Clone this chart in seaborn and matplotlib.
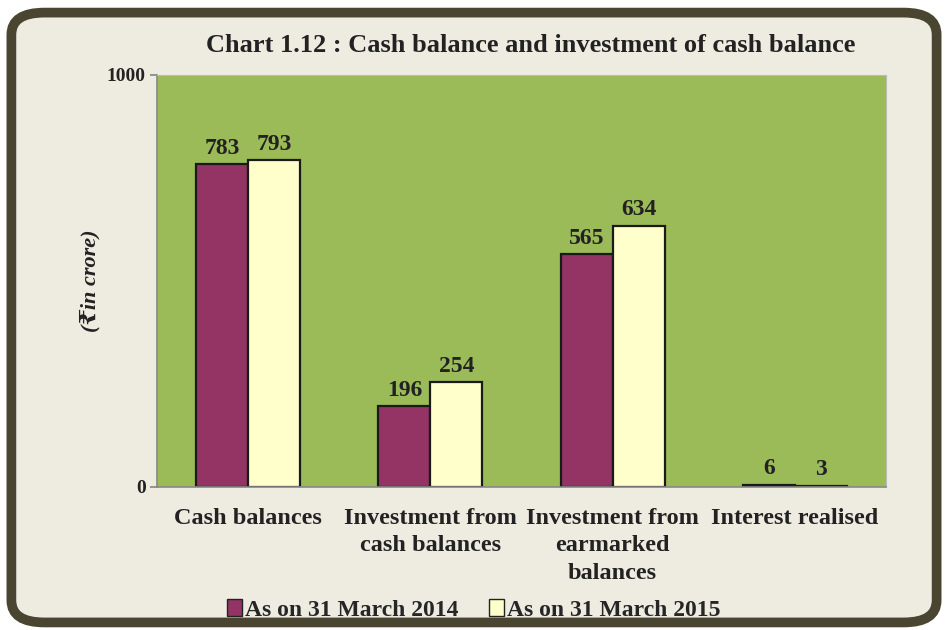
import matplotlib
matplotlib.use("Agg")
import matplotlib.pyplot as plt
import seaborn as sns
import pandas as pd
from matplotlib.patches import FancyBboxPatch, Patch

categories = ["Cash balances", "Investment from\ncash balances",
              "Investment from\nearmarked\nbalances", "Interest realised"]
series_names = ["As on 31 March 2014", "As on 31 March 2015"]
values_2014 = [783, 196, 565, 6]
values_2015 = [793, 254, 634, 3]

sns.set_theme(style="white")
plt.rcParams['font.family'] = ['Liberation Serif', 'DejaVu Serif', 'DejaVu Sans']
plt.rcParams['font.weight'] = 'bold'

df = pd.DataFrame({
    "category": categories * 2,
    "series": [series_names[0]] * 4 + [series_names[1]] * 4,
    "value": values_2014 + values_2015,
})

colors = ["#943464", "#ffffcc"]
fig = plt.figure(figsize=(9.48, 6.3), dpi=100)
fig.patch.set_facecolor("white")

border = FancyBboxPatch((0.012, 0.012), 0.976, 0.968,
                        boxstyle="round,pad=0,rounding_size=0.035",
                        transform=fig.transFigure, facecolor="#eeece1",
                        edgecolor="#4a4530", linewidth=7, zorder=-10)
fig.patches.append(border)

ax = fig.add_axes([0.1656, 0.227, 0.769, 0.654])
ax.set_facecolor("#9bbb59")
sns.barplot(data=df, x="category", y="value", hue="series", order=categories,
            hue_order=series_names, palette=colors, width=0.57,
            edgecolor="#1a1a1a", linewidth=1.6, saturation=1, ax=ax, legend=False)

for container in ax.containers:
    ax.bar_label(container, padding=4, fontsize=17, fontweight="bold", color="#222222")

ax.set_ylim(0, 1000)
ax.set_yticks([0, 1000])
ax.set_yticklabels(["0", "1000"], fontsize=14, fontweight="bold", color="#222222")
ax.set_xlim(-0.5, 3.5)
ax.set_xticks(range(4))
ax.set_xticklabels(categories, fontsize=17.5, fontweight="bold", color="#222222",
                   linespacing=1.4)
ax.set_xticks([-0.5, 0.5, 1.5, 2.5, 3.5], minor=True)
ax.tick_params(axis="x", which="major", length=0, pad=15)
ax.tick_params(axis="x", which="minor", length=6, color="#888888", direction="out")
ax.tick_params(axis="y", length=5, color="#888888", direction="out", left=True, pad=3)
ax.set_xlabel("")
ax.set_ylabel("(₹in crore)", fontsize=16, fontstyle="italic", fontweight="bold",
              color="#222222")
ax.yaxis.set_label_coords(-0.078, 0.5)
for s in ["left", "bottom"]:
    ax.spines[s].set_color("#888888")
    ax.spines[s].set_linewidth(1.2)
for s in ["top", "right"]:
    ax.spines[s].set_color("#bbbbbb")
    ax.spines[s].set_linewidth(0.8)

fig.text(0.56, 0.928, "Chart 1.12 : Cash balance and investment of cash balance",
         ha="center", va="center", fontsize=19, fontweight="bold", color="#222222")

handles = [Patch(facecolor=c, edgecolor="#222222", linewidth=1) for c in colors]
fig.legend(handles, series_names, loc="center", bbox_to_anchor=(0.5, 0.032),
           ncol=2, frameon=False, handlelength=0.6, handleheight=0.7,
           handletextpad=0.15, columnspacing=1.3,
           prop={"weight": "bold", "size": 17})

fig.savefig("out.png", dpi=100, facecolor=fig.get_facecolor())
